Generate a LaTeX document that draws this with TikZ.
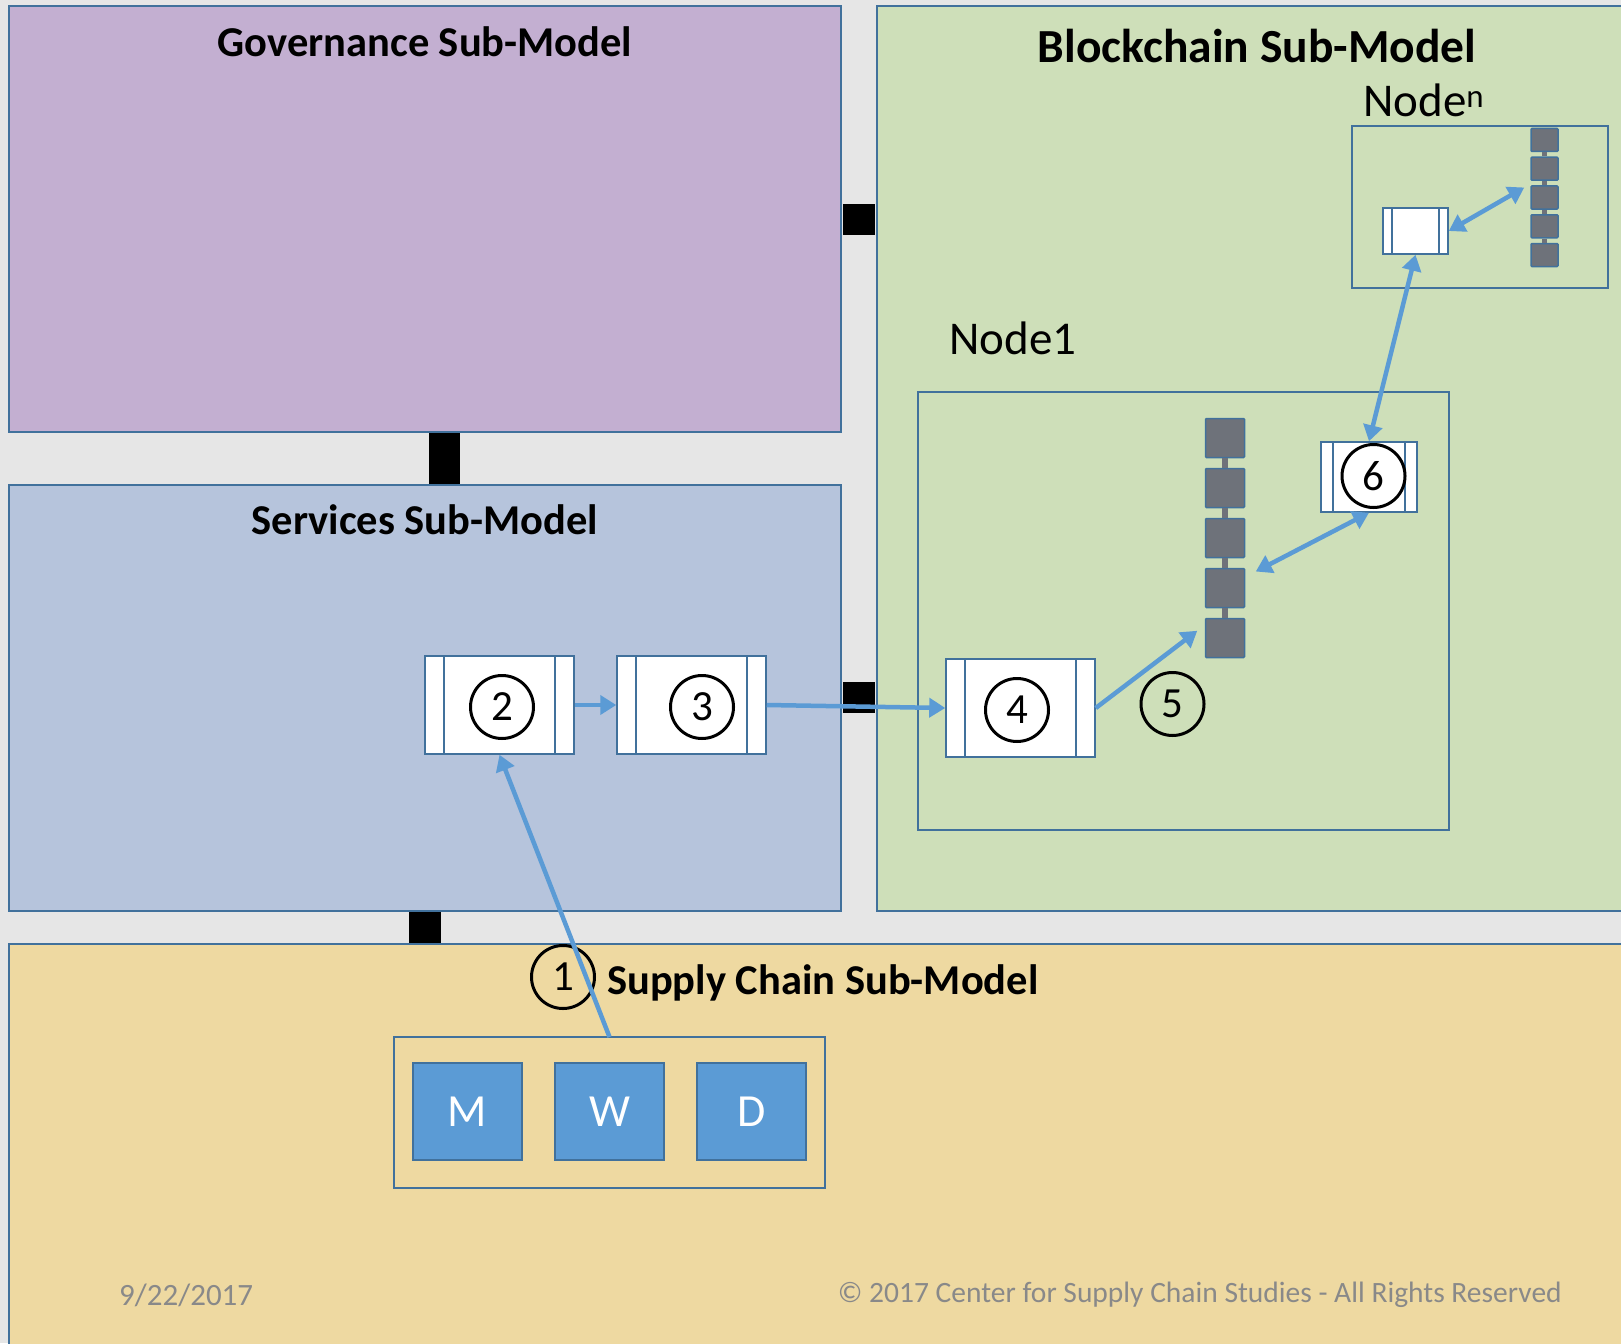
\documentclass[tikz,border=0pt]{standalone}
\usepackage{fontspec}
\setmainfont{Carlito}
\usepackage{xcolor}
\usetikzlibrary{arrows.meta}

\definecolor{backgray}{RGB}{230,230,230}
\definecolor{govpurple}{RGB}{195,175,209}
\definecolor{servblue}{RGB}{182,196,220}
\definecolor{chaingreen}{RGB}{206,223,185}
\definecolor{supplytan}{RGB}{238,217,161}
\definecolor{edgeblue}{RGB}{65,113,156}
\definecolor{arrowblue}{RGB}{91,155,213}
\definecolor{blockgray}{RGB}{110,114,122}
\definecolor{footgray}{RGB}{137,137,137}

\begin{document}
\begin{tikzpicture}[x=1pt,y=-1pt,
  region/.style={draw=edgeblue,line width=2pt},
  title/.style={font=\fontsize{42.5}{50}\selectfont\bfseries,inner sep=0pt},
  label/.style={font=\fontsize{47}{56}\selectfont,inner sep=0pt},
  procbox/.style={draw=edgeblue,fill=white,line width=1.5pt,inner sep=0pt,
    path picture={
      \draw[edgeblue,line width=1.5pt]
        ([xshift=#1]path picture bounding box.south west) -- ([xshift=#1]path picture bounding box.north west)
        ([xshift=-#1]path picture bounding box.south east) -- ([xshift=-#1]path picture bounding box.north east);
    }},
  procbox/.default=18,
  num/.style={circle,draw=black,line width=3pt,minimum size=63pt,inner sep=0pt,
    font=\fontsize{43}{50}\selectfont},
  blk/.style={draw=edgeblue,fill=blockgray,line width=1.5pt,rounded corners=1pt,inner sep=0pt},
  link/.style={blockgray,line width=6pt},
  actor/.style={draw=edgeblue,fill=arrowblue,line width=1.5pt,minimum width=109pt,
    minimum height=97pt,inner sep=0pt,text=white,font=\fontsize{46}{55}\selectfont},
  arr/.style={draw=arrowblue,line width=4.5pt,-{Triangle[length=16pt,width=19pt]}},
  darr/.style={draw=arrowblue,line width=4.5pt,
    {Triangle[length=16pt,width=19pt]}-{Triangle[length=16pt,width=19pt]}},
  foot/.style={text=footgray,inner sep=0pt}]

  \useasboundingbox (0,0) rectangle (1621,1343);
  \fill[backgray] (0,0) rectangle (1621,1343);

  % sub-models
  \filldraw[region,fill=govpurple] (9,6) rectangle (841,432);
  \filldraw[region,fill=servblue] (9,485) rectangle (841,911);
  \filldraw[region,fill=chaingreen] (877,6) rectangle (1630,911);
  \filldraw[region,fill=supplytan] (9,944) rectangle (1630,1350);

  \fill[black] (843,204) rectangle (875,235);
  \fill[black] (429,433) rectangle (460,484);
  \fill[black] (843,682) rectangle (875,713);
  \fill[black] (409,912) rectangle (441,943);

  \node[title] (govtitle) at (425,42) {Governance Sub-Model};
  \node[title,font=\fontsize{47.5}{56}\selectfont\bfseries] (bctitle) at (1257,46) {Blockchain Sub-Model};
  \node[title] (servtitle) at (425,520) {Services Sub-Model};
  \node[title,anchor=base west] (sctitle) at (607,994) {Supply Chain Sub-Model};

  % blockchain nodes
  \draw[region] (918,392) rectangle (1449,830);
  \draw[region] (1352,126) rectangle (1608,288);
  \node[label,anchor=base west] (node1) at (949,354) {Node1};
  \node[label,anchor=base west] (noden) at (1363,117) {Node\textsuperscript{n}};

  \foreach \i in {0,...,4}
    \node[blk,minimum width=39pt,minimum height=39pt] (blk\i) at (1225,438+50*\i) {};
  \foreach \i/\j in {0/1,1/2,2/3,3/4}
    \draw[link] (blk\i.south) -- (blk\j.north);
  \foreach \i in {0,...,4}
    \node[blk,minimum width=27pt,minimum height=23pt] (nblk\i) at (1544.5,140+28.75*\i) {};
  \foreach \i/\j in {0/1,1/2,2/3,3/4}
    \draw[link,line width=5pt] (nblk\i.south) -- (nblk\j.north);

  % process steps
  \node[procbox=19,minimum width=149pt,minimum height=98pt] (box2) at (499.5,705) {};
  \node[procbox=19,minimum width=149pt,minimum height=98pt] (box3) at (691.5,705) {};
  \node[procbox=19,minimum width=149pt,minimum height=98pt] (box4) at (1020.5,708) {};
  \node[procbox=12,minimum width=96pt,minimum height=70pt] (box6) at (1369,477) {};
  \node[procbox=9,minimum width=65pt,minimum height=46pt] (nbox) at (1415.5,231) {};

  \node[num] (c2) at (502,707) {2};
  \node[num] (c3) at (702,707) {3};
  \node[num] (c4) at (1017,710) {4};
  \node[num] (c5) at (1172.5,704) {5};
  \node[num] (c6) at (1373.5,476) {6};
  \node[num] (c1) at (563,977) {1};

  % supply chain
  \draw[edgeblue,line width=2pt] (394,1037) rectangle (825,1188);
  \node (scbox) at (609.5,1037) {};
  \node[actor] (mfg) at (467.5,1111.5) {M};
  \node[actor] (whs) at (609.5,1111.5) {W};
  \node[actor] (dst) at (751.5,1111.5) {D};

  % flows
  \draw[arr] (scbox.center) -- (box2.south);
  \draw[arr] (box2.east) -- (box3.west);
  \draw[arr] (box3.east) -- (box4.west);
  \draw[arr] (box4.east) -- ([shift={(-7.5,13)}]blk4.north west);
  \draw[darr] ([shift={(10.5,-16.5)}]blk3.east) -- (box6.south);
  \draw[darr] (box6.north) -- (nbox.south);
  \draw[darr] (nbox.east) -- ([shift={(-6,-10)}]nblk2.west);

  \node[foot,font=\fontsize{31}{36}\selectfont,anchor=west] (date) at (119,1295) {9/22/2017};
  \node[foot,font=\fontsize{29.5}{36}\selectfont,anchor=east] (rights) at (1562,1295) {© 2017 Center for Supply Chain Studies - All Rights Reserved};
\end{tikzpicture}
\end{document}
